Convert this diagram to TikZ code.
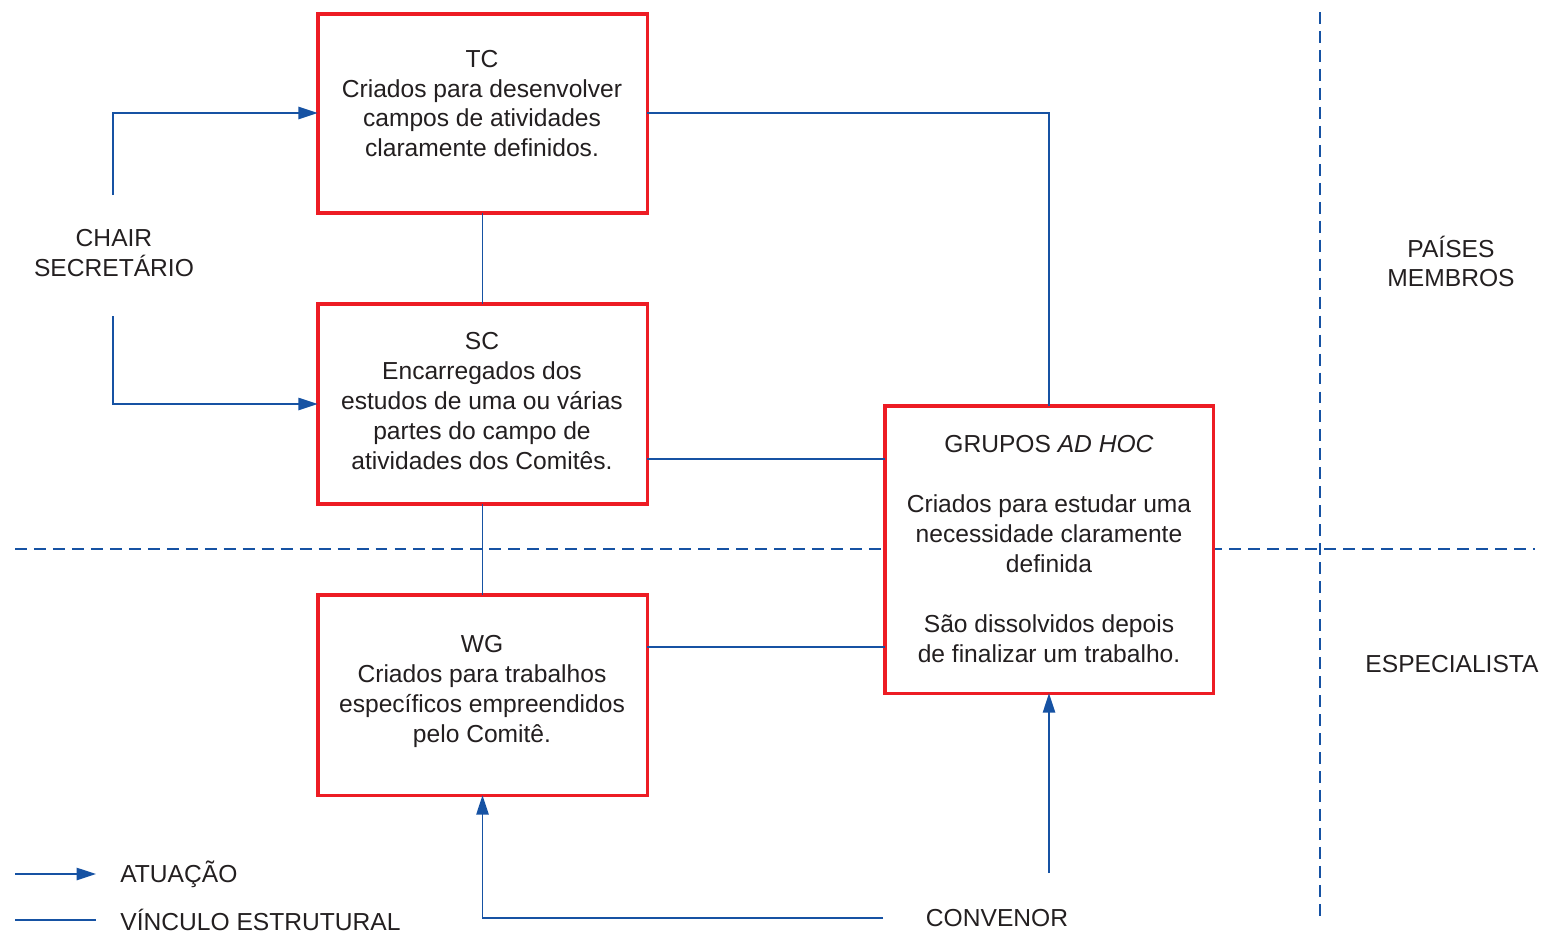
\documentclass[tikz,border=0pt]{standalone}
\usepackage{fontspec}
\setmainfont{Liberation Sans}
\usetikzlibrary{arrows.meta}
\definecolor{lnblue}{RGB}{22,82,163}
\definecolor{bxred}{RGB}{237,28,36}
\definecolor{txt}{RGB}{35,31,32}
\begin{document}
\begin{tikzpicture}[x=0.02cm,y=-0.02cm,
  box/.style={draw=bxred,line width=2pt,fill=white,inner sep=0pt,outer sep=0pt},
  lbl/.style={text=txt,align=center,inner sep=0pt,font=\fontsize{14}{17}\selectfont},
  lnk/.style={draw=lnblue,line width=0.85pt},
  act/.style={lnk,-{Triangle[length=11pt,width=7pt]}},
  sep/.style={draw=lnblue,line width=1.1pt,dash pattern=on 6.8pt off 4pt}]
\useasboundingbox (0,0) rectangle (1545,933);
% separators
\draw[sep] (1320,12) -- (1320,918);
\draw[sep] (15,549) -- (1535,549);
% boxes
\node[box,minimum width=329.5*0.02cm,minimum height=199.5*0.02cm] (tc) at (482.5,113.5) {};
\node[box,minimum width=329.5*0.02cm,minimum height=200.5*0.02cm] (sc) at (482.5,404) {};
\node[box,minimum width=329.5*0.02cm,minimum height=200.5*0.02cm] (wg) at (482.5,695) {};
\node[box,minimum width=328.5*0.02cm,minimum height=287.5*0.02cm] (ah) at (1049,549.5) {};
% box texts
\node[lbl] (tct) at (482,103.5) {TC\\Criados para desenvolver\\campos de atividades\\claramente definidos.};
\node[lbl] (sct) at (482,401) {SC\\Encarregados dos\\estudos de uma ou várias\\partes do campo de\\atividades dos Comitês.};
\node[lbl] (wgt) at (482,691.5) {WG\\Criados para trabalhos\\específicos empreendidos\\pelo Comitê.};
\node[lbl] (aht) at (1049,549) {GRUPOS \textit{AD HOC}\\[17pt]Criados para estudar uma\\necessidade claramente\\definida\\[17pt]São dissolvidos depois\\de finalizar um trabalho.};
% outside labels
\node[lbl] (chair) at (114,253) {CHAIR\\SECRETÁRIO};
\node[lbl] (paises) at (1451,261.5) {PAÍSES\\MEMBROS};
\node[lbl] (esp) at (1452,664) {ESPECIALISTA};
\node[lbl] (conv) at (997,918) {CONVENOR};
\node[lbl,anchor=west] (atu) at (120,874) {ATUAÇÃO};
\node[lbl,anchor=west] (vin) at (120,920) {VÍNCULO ESTRUTURAL};
% coordinates
\coordinate (chtop) at (113,195);
\coordinate (chbot) at (113,316);
\coordinate (cvtop) at (1049,873);
\coordinate (cvleft) at (883,918);
\coordinate (la1) at (15,874); \coordinate (la2) at (96,874);
\coordinate (lv1) at (15,920); \coordinate (lv2) at (96,920);
% structural links
\draw[lnk] (tc.south) -- (sc.north);
\draw[lnk] (sc.south) -- (wg.north);
\draw[lnk] (tc.east |- 0,113) -| (ah.north);
\draw[lnk] (sc.east |- 0,459) -- (ah.west |- 0,459);
\draw[lnk] (wg.east |- 0,647) -- (ah.west |- 0,647);
% actuation arrows
\draw[act] (chtop) |- (tc.west |- 0,113);
\draw[act] (chbot) |- (sc.west |- 0,404);
\draw[act] (cvtop) -- (ah.south);
\draw[act] (cvleft) -| (wg.south);
% legend
\draw[act] (la1) -- (la2);
\draw[lnk] (lv1) -- (lv2);
\end{tikzpicture}
\end{document}
